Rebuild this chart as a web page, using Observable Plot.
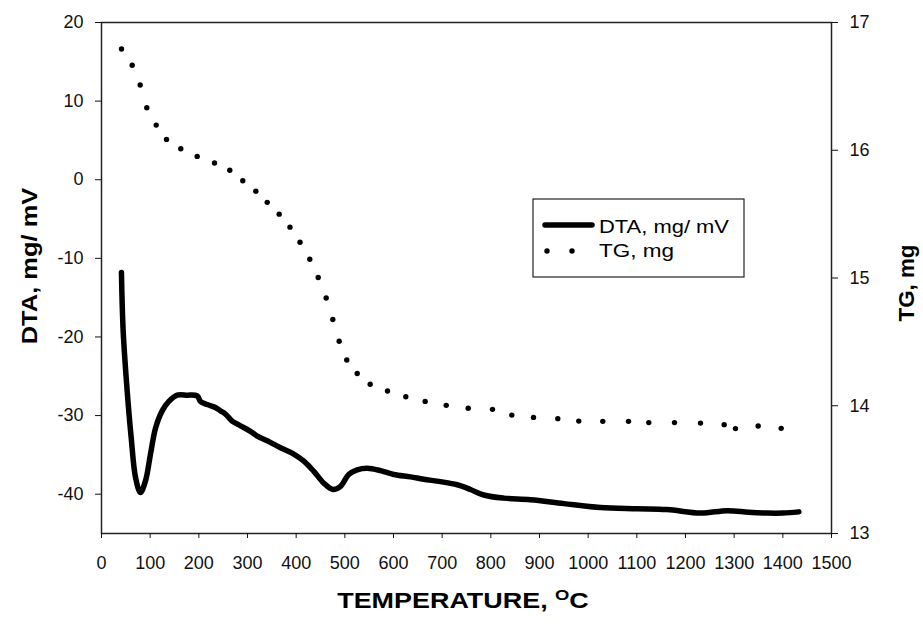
<!DOCTYPE html>
<html>
<head>
<meta charset="utf-8">
<script src="https://cdn.jsdelivr.net/npm/d3@7"></script>
<script src="https://cdn.jsdelivr.net/npm/@observablehq/plot@0.6"></script>
<style>
  html, body { margin: 0; padding: 0; background: #fff; }
  #chart { width: 923px; height: 631px; }
</style>
</head>
<body>
<div id="chart"></div>
<script>
// DTA curve (temperature °C, DTA mg/mV)
const dtaTemp = [41, 44.5, 52.8, 61, 70, 80, 90.4, 100.7, 111, 124.7, 138.4, 155.5, 176, 196.6, 203.4, 217, 235, 244.5, 254.8, 268.5, 285.6, 306, 320, 340.5, 367.8, 395, 415.7, 436.3, 456.8, 475.3, 491, 508, 525.4, 546, 573.3, 600.6, 635, 662, 696.6, 731, 758, 785.5, 826.6, 881.5, 950, 1025, 1100, 1162, 1231, 1286, 1330, 1368, 1400, 1433];
const dtaValue = [-11.8, -19.2, -26.9, -32.8, -37.9, -39.8, -38.3, -34.9, -31.6, -29.4, -28.2, -27.4, -27.4, -27.5, -28.2, -28.6, -29.0, -29.4, -29.8, -30.7, -31.3, -32.0, -32.6, -33.2, -34.1, -34.9, -35.8, -37.1, -38.6, -39.4, -39.0, -37.5, -36.9, -36.7, -37.0, -37.5, -37.8, -38.1, -38.4, -38.8, -39.4, -40.1, -40.5, -40.7, -41.2, -41.7, -41.85, -41.95, -42.4, -42.1, -42.3, -42.4, -42.4, -42.25];

// TG points (temperature °C, TG mg)
const tgTemp = [41.1, 63.1, 79.5, 93.1, 112.4, 133.6, 162.9, 196.6, 232.2, 263.6, 290.3, 317.1, 340.5, 365.1, 387.3, 407.9, 428.0, 445.3, 461.7, 475.3, 488.4, 504.0, 525.4, 552.1, 587.7, 625.3, 665.1, 708.3, 753.5, 803.4, 843.1, 887.7, 937.6, 980.7, 1030.0, 1082.9, 1124.6, 1177.4, 1230.8, 1279.5, 1302.7, 1349.3, 1396.6];
const tgValue = [16.793, 16.665, 16.511, 16.333, 16.197, 16.085, 16.012, 15.952, 15.900, 15.843, 15.761, 15.680, 15.592, 15.500, 15.398, 15.280, 15.147, 15.004, 14.844, 14.675, 14.505, 14.358, 14.252, 14.168, 14.115, 14.071, 14.034, 14.003, 13.980, 13.972, 13.927, 13.909, 13.899, 13.880, 13.878, 13.878, 13.868, 13.868, 13.864, 13.852, 13.821, 13.841, 13.823];

// Axis ticks
const xTicks = [0,100,200,300,400,500,600,700,800,900,1000,1100,1200,1300,1400,1500];
const yLeftTicks = [-40,-30,-20,-10,0,10,20];
const yRightTicks = [13,14,15,16,17];

const xDomain = [0, 1500];
const yDomain = [-45, 20];
const tgDomain = [13, 17];

// map TG onto the left (DTA) scale
const toY = v => yDomain[0] + (v - tgDomain[0]) / (tgDomain[1] - tgDomain[0]) * (yDomain[1] - yDomain[0]);
const fromY = y => tgDomain[0] + (y - yDomain[0]) / (yDomain[1] - yDomain[0]) * (tgDomain[1] - tgDomain[0]);

const dta = dtaTemp.map((t, i) => ({t, v: dtaValue[i]}));
const tg = tgTemp.map((t, i) => ({t, v: tgValue[i]}));

const font = "'Liberation Sans', Arial, sans-serif";

const chart = Plot.plot({
  width: 923,
  height: 631,
  marginLeft: 101,
  marginRight: 92,
  marginTop: 22,
  marginBottom: 98,
  style: {fontFamily: font, fontSize: "18px", color: "#111", background: "#fff"},
  x: {domain: xDomain},
  y: {domain: yDomain},
  marks: [
    Plot.frame({stroke: "#222", strokeWidth: 1.5}),
    Plot.axisX({ticks: xTicks, tickSize: 5, tickPadding: 18, tickFormat: d => String(d), label: null, fontSize: 18}),
    Plot.axisY({ticks: yLeftTicks, tickSize: 6, tickPadding: 12, tickFormat: d => String(d), label: null, fontSize: 18}),
    Plot.axisY({anchor: "right", ticks: yRightTicks.map(toY), tickSize: 6, tickPadding: 12,
                tickFormat: d => String(Math.round(fromY(d))), label: null, fontSize: 18}),
    Plot.line(dta, {x: "t", y: "v", stroke: "#000", strokeWidth: 5.5, strokeLinejoin: "round", strokeLinecap: "round", curve: "catmull-rom"}),
    Plot.dot(tg, {x: "t", y: d => toY(d.v), r: 2.7, fill: "#000", stroke: "none"})
  ]
});

document.getElementById("chart").appendChild(chart);

// Titles and legend appended as real SVG text
const svg = d3.select(chart);

// horizontally fit a text to a target width, centred on cx
function fitText(sel, cx, baseline, target, rotate) {
  const w = sel.node().getBBox().width;
  const sx = target / w;
  sel.attr("text-anchor", "middle")
     .attr("transform", `translate(${cx},${baseline})${rotate ? " rotate(-90)" : ""} scale(${sx},1)`);
}

const xt = svg.append("text")
  .attr("font-family", font).attr("font-weight", "bold").attr("font-size", 22)
  .attr("fill", "#000");
xt.append("tspan").text("TEMPERATURE, ");
xt.append("tspan").attr("dy", -8).attr("font-size", 15).text("O");
xt.append("tspan").attr("dy", 8).text("C");
fitText(xt, 463, 608, 252, false);

const yt = svg.append("text")
  .attr("font-family", font).attr("font-weight", "bold").attr("font-size", 22)
  .attr("fill", "#000")
  .text("DTA, mg/ mV");
fitText(yt, 37, 266, 157, true);

const rt = svg.append("text")
  .attr("font-family", font).attr("font-weight", "bold").attr("font-size", 22)
  .attr("fill", "#000")
  .text("TG, mg");
fitText(rt, 914, 283, 77, true);

// Legend
const lg = svg.append("g").attr("transform", "translate(533,199)");
lg.append("rect").attr("width", 211).attr("height", 78)
  .attr("fill", "#fff").attr("stroke", "#222").attr("stroke-width", 1.2);
lg.append("line").attr("x1", 12).attr("x2", 59).attr("y1", 26).attr("y2", 26)
  .attr("stroke", "#000").attr("stroke-width", 5.5).attr("stroke-linecap", "round");
const l1 = lg.append("text").attr("x", 66).attr("y", 34).attr("text-anchor", "start")
  .attr("font-family", font).attr("font-size", 18).attr("fill", "#000").text("DTA, mg/ mV");
l1.attr("textLength", 130).attr("lengthAdjust", "spacingAndGlyphs");
lg.append("circle").attr("cx", 14).attr("cy", 52).attr("r", 2.7).attr("fill", "#000");
lg.append("circle").attr("cx", 39).attr("cy", 52).attr("r", 2.7).attr("fill", "#000");
const l2 = lg.append("text").attr("x", 66).attr("y", 58).attr("text-anchor", "start")
  .attr("font-family", font).attr("font-size", 18).attr("fill", "#000").text("TG, mg");
l2.attr("textLength", 75).attr("lengthAdjust", "spacingAndGlyphs");
</script>
</body>
</html>
